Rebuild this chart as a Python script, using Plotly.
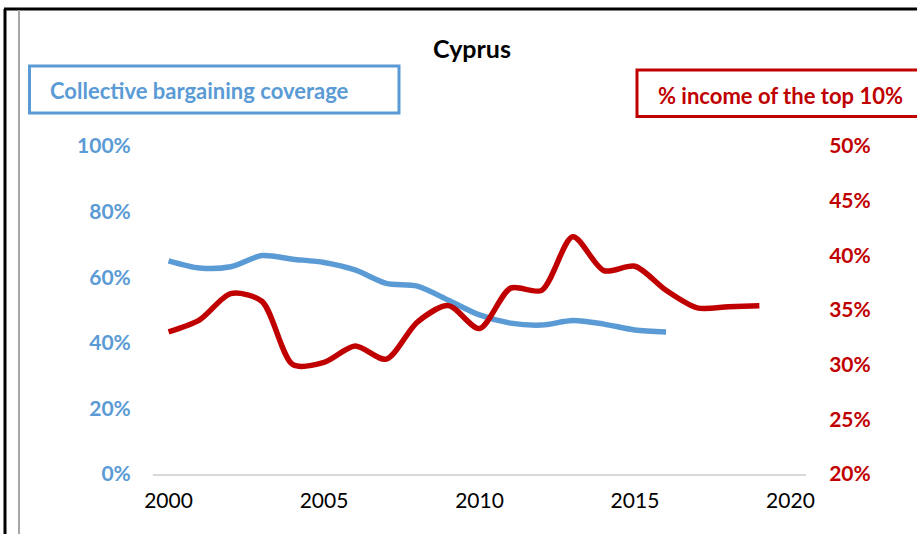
import plotly.graph_objects as go

# ---- data ----
years_cov = [2000, 2001, 2002, 2003, 2004, 2005, 2006, 2007, 2008, 2009,
             2010, 2011, 2012, 2013, 2014, 2015, 2016]
coverage = [0.650, 0.628, 0.632, 0.666, 0.655, 0.645, 0.622, 0.581, 0.573, 0.530,
            0.485, 0.460, 0.454, 0.468, 0.457, 0.439, 0.433]

years_top = [2000, 2001, 2002, 2003, 2004, 2005, 2006, 2007, 2008, 2009,
             2010, 2011, 2012, 2013, 2014, 2015, 2016, 2017, 2018, 2019]
top10 = [0.330, 0.341, 0.365, 0.358, 0.300, 0.302, 0.317, 0.305, 0.339, 0.354,
         0.333, 0.370, 0.368, 0.417, 0.386, 0.390, 0.368, 0.352, 0.353, 0.354]

x_ticks = [2000, 2005, 2010, 2015, 2020]
title_text = "Cyprus"
label_cov = "Collective bargaining coverage"
label_top = "% income of the top 10%"

BLUE = "#5B9BD5"
RED = "#C00000"
FONT = "Lato"

W, H = 917, 534
L, R, T, B = 153, 806, 146, 474  # plot area in pixels


def px(x):
    return (x - L) / (R - L)


def py(y):
    return (B - y) / (B - T)


fig = go.Figure()
fig.add_trace(go.Scatter(x=years_cov, y=coverage, mode="lines",
                         line=dict(color=BLUE, width=5.5, shape="spline", smoothing=0.8),
                         hoverinfo="x+y", showlegend=False))
fig.add_trace(go.Scatter(x=years_top, y=top10, mode="lines", yaxis="y2",
                         line=dict(color=RED, width=5.5, shape="spline", smoothing=0.8),
                         hoverinfo="x+y", showlegend=False))

shapes = [
    # outer frame lines
    dict(type="line", xref="paper", yref="paper", x0=px(4), x1=px(917), y0=py(9), y1=py(9),
         line=dict(color="black", width=3)),
    dict(type="line", xref="paper", yref="paper", x0=px(5), x1=px(5), y0=py(9), y1=py(534),
         line=dict(color="black", width=3)),
    dict(type="line", xref="paper", yref="paper", x0=px(19), x1=px(19), y0=py(10), y1=py(534),
         line=dict(color="#A6A6A6", width=2)),
    # legend boxes
    dict(type="rect", xref="paper", yref="paper", x0=px(29.5), x1=px(399), y0=py(66), y1=py(113),
         line=dict(color=BLUE, width=3), fillcolor="white"),
    dict(type="rect", xref="paper", yref="paper", x0=px(637), x1=px(925), y0=py(70), y1=py(116.5),
         line=dict(color=RED, width=3), fillcolor="white"),
]

annotations = [
    dict(text=title_text, xref="paper", yref="paper", x=px(472), y=py(48),
         xanchor="center", yanchor="middle", showarrow=False,
         font=dict(family=FONT, size=25, color="black", weight="bold")),
    dict(text=label_cov, xref="paper", yref="paper", x=px(48), y=py(90),
         xanchor="left", yanchor="middle", showarrow=False,
         font=dict(family=FONT, size=22, color=BLUE, weight="bold")),
    dict(text=label_top, xref="paper", yref="paper", x=px(656), y=py(95),
         xanchor="left", yanchor="middle", showarrow=False,
         font=dict(family=FONT, size=22, color=RED, weight="bold")),
]

fig.update_layout(
    width=W, height=H,
    margin=dict(l=L, r=W - R, t=T, b=H - B, pad=0),
    paper_bgcolor="white", plot_bgcolor="white",
    shapes=shapes, annotations=annotations,
    showlegend=False,
    xaxis=dict(range=[1999.5, 2020.5], tickvals=x_ticks, showgrid=False, zeroline=False,
               showline=True, linecolor="#D9D9D9", linewidth=2,
               ticks="outside", ticklen=7, tickcolor="rgba(0,0,0,0)",
               tickfont=dict(family=FONT, size=21, color="black")),
    yaxis=dict(range=[0, 1], dtick=0.2, tickformat=".0%", showgrid=False, zeroline=False,
               showline=False, ticks="outside", ticklen=17, tickcolor="rgba(0,0,0,0)",
               tickfont=dict(family=FONT, size=21, color=BLUE, weight="bold")),
    yaxis2=dict(range=[0.2, 0.5], dtick=0.05, tickformat=".0%", overlaying="y", side="right",
                showgrid=False, zeroline=False, showline=False,
                ticks="outside", ticklen=18, tickcolor="rgba(0,0,0,0)",
                tickfont=dict(family=FONT, size=21, color=RED, weight="bold")),
)

fig.write_html("out.html",
               config={"displayModeBar": False},
               post_script="document.body.style.margin='0';document.body.style.overflow='hidden';")
